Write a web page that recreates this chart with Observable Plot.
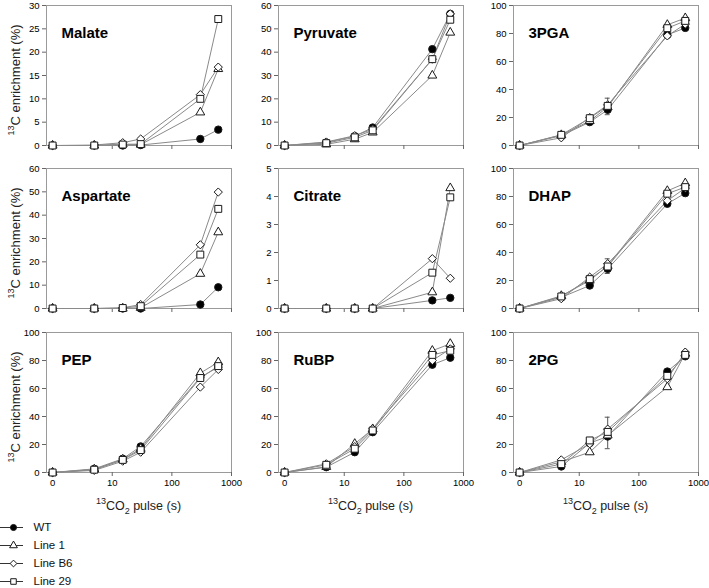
<!DOCTYPE html>
<html><head><meta charset="utf-8">
<script src="https://cdn.jsdelivr.net/npm/d3@7"></script>
<script src="https://cdn.jsdelivr.net/npm/@observablehq/plot@0.6"></script>
<style>
body{margin:0;background:#fff;font-family:"Liberation Sans",Arial,sans-serif;}
#root{position:relative;width:709px;height:588px;overflow:hidden;background:#fff;}
.p{position:absolute;}
.ytitle{position:absolute;font-size:13px;color:#222;white-space:nowrap;transform:translate(-50%,-50%) rotate(-90deg);}
.xtitle{position:absolute;font-size:12.5px;color:#222;white-space:nowrap;transform:translate(-50%,-50%);}
.sup{font-size:9px;vertical-align:6px;}
.sub{font-size:9px;vertical-align:-4px;}
</style></head><body><div id="root"></div>
<script>
// time points (s); the 0 s sample sits at the "0" position of the log axis
const times = [0, 5, 15, 30, 300, 600];
const series = ["WT", "Line 1", "Line B6", "Line 29"];
const panelNames = ["Malate", "Pyruvate", "3PGA", "Aspartate", "Citrate", "DHAP", "PEP", "RuBP", "2PG"];
const yMax = [30, 60, 100, 60, 5, 100, 100, 100, 100];
const yStep = [5, 10, 20, 10, 1, 20, 20, 20, 20];
const xTickValues = [1, 10, 100, 1000];
const xTickLabels = ["0", "10", "100", "1000"];

// values per panel, rows in series order: WT, Line 1, Line B6, Line 29
const malate = [
  [0, 0, 0, 0.1, 1.4, 3.4],
  [0, 0, 0.3, 0.2, 7.1, 16.4],
  [0, 0.1, 0.6, 1.4, 10.9, 16.8],
  [0, 0, 0.2, 0.3, 10.0, 27.1]];
const pyruvate = [
  [0, 1.3, 4.0, 7.7, 41.3, 56.4],
  [0, 0.5, 2.7, 5.6, 30.0, 48.4],
  [0, 1.5, 4.2, 7.0, 37.0, 56.4],
  [0, 1.0, 3.5, 6.5, 37.0, 53.9]];
const pga3 = [
  [0, 7.0, 16.7, 25.5, 79.0, 84.0],
  [0, 7.5, 17.5, 27.5, 86.2, 91.0],
  [0, 5.5, 20.0, 29.0, 78.3, 86.7],
  [0, 7.6, 19.5, 28.3, 83.8, 89.0]];
const aspartate = [
  [0, 0, 0, 0, 1.7, 9.1],
  [0, 0, 0, 0.3, 14.9, 32.7],
  [0, 0, 0.3, 1.7, 27.3, 49.9],
  [0, 0, 0.2, 1.0, 23.1, 42.7]];
const citrate = [
  [0, 0, 0, 0, 0.29, 0.38],
  [0, 0, 0, 0, 0.58, 4.3],
  [0, 0, 0, 0, 1.78, 1.08],
  [0, 0, 0, 0, 1.28, 3.97]];
const dhap = [
  [0, 8.0, 16.4, 28.3, 74.8, 82.4],
  [0, 9.0, 20.0, 30.5, 84.0, 89.5],
  [0, 7.0, 22.4, 32.0, 77.0, 86.0],
  [0, 8.6, 21.0, 30.0, 82.0, 86.7]];
const pep = [
  [0, 2.6, 9.8, 18.6, 68.0, 75.2],
  [0, 2.2, 9.3, 17.0, 71.0, 78.8],
  [0, 1.5, 8.1, 14.5, 61.0, 73.6],
  [0, 2.0, 9.0, 16.0, 67.5, 76.0]];
const rubp = [
  [0, 3.8, 14.5, 28.8, 77.0, 82.0],
  [0, 4.0, 20.5, 31.0, 87.0, 91.9],
  [0, 6.2, 18.5, 31.2, 80.0, 88.3],
  [0, 5.5, 17.0, 30.0, 84.0, 87.0]];
const pg2 = [
  [0, 4.3, 21.0, 25.7, 72.1, 83.0],
  [0, 7.6, 14.5, 26.5, 61.0, 85.0],
  [0, 9.0, 20.5, 31.0, 67.0, 86.0],
  [0, 6.0, 22.9, 29.0, 69.0, 84.0]];
const panelData = [malate, pyruvate, pga3, aspartate, citrate, dhap, pep, rubp, pg2];

// error bars (visible ones)
const errPanel = ["3PGA", "DHAP", "2PG"];
const errTime = [30, 30, 30];
const errLow = [22, 25, 17];
const errHigh = [33.8, 35.5, 39.5];

// legend styling per series
const symbols = ["circle", "triangle", "diamond2", "square"];
const fills = ["#000", "#fff", "#fff", "#fff"];
const radii = [3.7, 3.3, 3.7, 3.9];

const frameLeft = [46, 278, 513];
const frameTop = [5, 168, 332];
const frameW = 185, frameH = 140;
const ML = 34, MR = 6, MT = 6, MB = 24;
const root = document.getElementById("root");
const font = "'Liberation Sans', Arial, sans-serif";

panelNames.forEach((name, k) => {
  const row = Math.floor(k / 3), col = k % 3;
  const data = panelData[k];
  const rows = [];
  series.forEach((s, i) => times.forEach((t, j) => rows.push({s, t: t === 0 ? 1 : t, v: data[i][j]})));
  const errs = errPanel.map((p, i) => ({p, t: errTime[i], lo: errLow[i], hi: errHigh[i]})).filter(e => e.p === name);
  const ticksY = d3.range(0, yMax[k] + yStep[k] / 2, yStep[k]);
  const marks = [
    Plot.frame({stroke: "#9a9a9a"}),
    Plot.axisY({ticks: ticksY, tickSize: 4, tickPadding: 3, fontSize: 9.5, label: null, stroke: "#666",
      fill: "#000", tickFormat: d => String(d)}),
    Plot.axisX({ticks: [10, 100, 1000], tickSize: 4, tickFormat: () => "", label: null, stroke: "#666"})
  ];
  if (row === 2) {
    marks.push(Plot.axisX({ticks: xTickValues, tickSize: 0, tickPadding: 7, fontSize: 9.5, label: null,
      fill: "#000", tickFormat: d => xTickLabels[xTickValues.indexOf(d)]}));
  }
  marks.push(Plot.line(rows, {x: "t", y: "v", z: "s", stroke: "#8a8a8a", strokeWidth: 1}));
  if (errs.length) {
    marks.push(Plot.ruleX(errs, {x: "t", y1: "lo", y2: "hi", stroke: "#555", strokeWidth: 1}));
    marks.push(Plot.ruleY(errs, {y: "hi", x1: d => d.t / 1.1, x2: d => d.t * 1.1, stroke: "#555", strokeWidth: 1}));
    marks.push(Plot.ruleY(errs, {y: "lo", x1: d => d.t / 1.1, x2: d => d.t * 1.1, stroke: "#555", strokeWidth: 1}));
  }
  series.forEach((s, i) => {
    marks.push(Plot.dot(rows.filter(d => d.s === s), {x: "t", y: "v", symbol: () => symbols[i], r: radii[i],
      fill: fills[i], stroke: "#1a1a1a", strokeWidth: 1}));
  });
  marks.push(Plot.text([name], {frameAnchor: "top-left", dx: 15, dy: 22, text: d => d, fontSize: 15,
    fontWeight: "bold", textAnchor: "start", fill: "#000"}));
  const chart = Plot.plot({
    width: ML + frameW + MR, height: MT + frameH + MB,
    marginLeft: ML, marginRight: MR, marginTop: MT, marginBottom: MB,
    x: {type: "log", domain: [0.79, 1000]},
    y: {domain: [0, yMax[k]]},
    symbol: {type: "identity"},
    style: {fontFamily: font, fontSize: "10px", color: "#222", background: "transparent", overflow: "visible"},
    marks
  });
  chart.classList.add("p");
  chart.style.left = (frameLeft[col] - ML) + "px";
  chart.style.top = (frameTop[row] - MT) + "px";
  root.appendChild(chart);
});

// axis titles
frameTop.forEach(top => {
  const d = document.createElement("div");
  d.className = "ytitle";
  d.innerHTML = '<span class="sup">13</span>C enrichment (%)';
  d.style.left = "14px";
  d.style.top = (top + frameH / 2 + 5) + "px";
  root.appendChild(d);
});
frameLeft.forEach(left => {
  const d = document.createElement("div");
  d.className = "xtitle";
  d.innerHTML = '<span class="sup">13</span>CO<span class="sub">2</span> pulse (s)';
  d.style.left = (left + frameW / 2) + "px";
  d.style.top = "506px";
  root.appendChild(d);
});

// legend
const legendRows = series.map((s, i) => ({s, i}));
const legend = Plot.plot({
  width: 130, height: 80, margin: 0,
  x: {domain: [0, 130], range: [0, 130]},
  y: {type: "point", domain: series, range: [11, 66.5], padding: 0},
  symbol: {type: "identity"},
  axis: null,
  style: {fontFamily: font, fontSize: "11px", color: "#222", background: "transparent", overflow: "visible"},
  marks: [
    Plot.ruleY(legendRows, {y: "s", x1: 0, x2: 23, stroke: "#333", strokeWidth: 1}),
    Plot.dot(legendRows, {x: 13, y: "s", symbol: d => symbols[d.i], r: d => radii[d.i],
      fill: d => fills[d.i], stroke: "#1a1a1a", strokeWidth: 1}),
    Plot.text(legendRows, {x: 33, y: "s", text: "s", textAnchor: "start", fontSize: 11.5, fill: "#111"})
  ]
});
legend.classList.add("p");
legend.style.left = "0px";
legend.style.top = "515px";
root.appendChild(legend);
</script>
</body></html>
